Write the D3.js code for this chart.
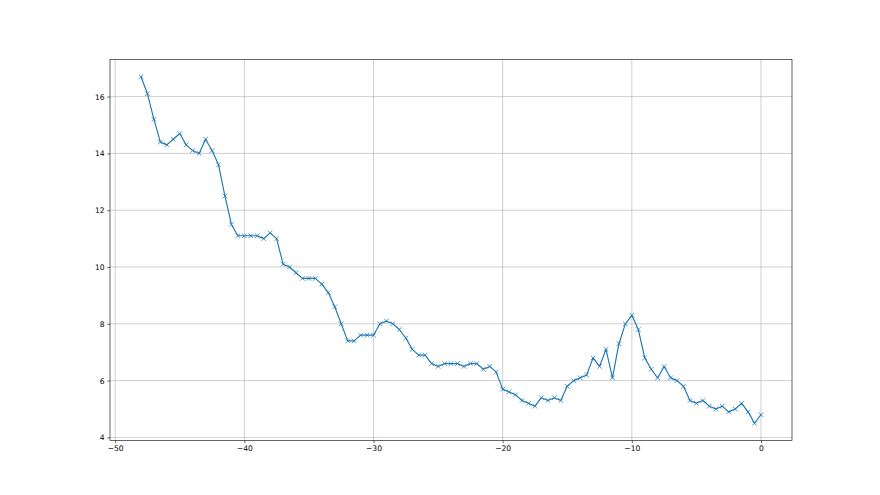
<!DOCTYPE html>
<html>
<head>
<meta charset="utf-8">
<script src="https://cdn.jsdelivr.net/npm/d3@7"></script>
<style>
  body { margin: 0; background: #fff; }
  .axis text { font-family: "DejaVu Sans", sans-serif; font-size: 7.6px; fill: #000; }
  .axis path, .axis line { stroke: #000; stroke-width: 0.6; }
  .grid line { stroke: #b0b0b0; stroke-width: 0.6; }
</style>
</head>
<body>
<div class="chart-container"></div>
<script>
//Data
const xValues = [-48, -47.5, -47, -46.5, -46, -45.5, -45, -44.5, -44, -43.5, -43, -42.5,
  -42, -41.5, -41, -40.5, -40, -39.5, -39, -38.5, -38, -37.5, -37, -36.5,
  -36, -35.5, -35, -34.5, -34, -33.5, -33, -32.5, -32, -31.5, -31, -30.5,
  -30, -29.5, -29, -28.5, -28, -27.5, -27, -26.5, -26, -25.5, -25, -24.5,
  -24, -23.5, -23, -22.5, -22, -21.5, -21, -20.5, -20, -19.5, -19, -18.5,
  -18, -17.5, -17, -16.5, -16, -15.5, -15, -14.5, -14, -13.5, -13, -12.5,
  -12, -11.5, -11, -10.5, -10, -9.5, -9, -8.5, -8, -7.5, -7, -6.5,
  -6, -5.5, -5, -4.5, -4, -3.5, -3, -2.5, -2, -1.5, -1, -0.5, 0];
const yValues = [16.7, 16.1, 15.2, 14.4, 14.3, 14.5, 14.7, 14.3, 14.1, 14.0, 14.5, 14.1,
  13.6, 12.5, 11.5, 11.1, 11.1, 11.1, 11.1, 11.0, 11.2, 11.0, 10.1, 10.0,
  9.8, 9.6, 9.6, 9.6, 9.4, 9.1, 8.6, 8.0, 7.4, 7.4, 7.6, 7.6,
  7.6, 8.0, 8.1, 8.0, 7.8, 7.5, 7.1, 6.9, 6.9, 6.6, 6.5, 6.6,
  6.6, 6.6, 6.5, 6.6, 6.6, 6.4, 6.5, 6.3, 5.7, 5.6, 5.5, 5.3,
  5.2, 5.1, 5.4, 5.3, 5.4, 5.3, 5.8, 6.0, 6.1, 6.2, 6.8, 6.5,
  7.1, 6.1, 7.3, 8.0, 8.3, 7.8, 6.8, 6.4, 6.1, 6.5, 6.1, 6.0,
  5.8, 5.3, 5.2, 5.3, 5.1, 5.0, 5.1, 4.9, 5.0, 5.2, 4.9, 4.5, 4.8];
const xTicks = [-50, -40, -30, -20, -10, 0];
const yTicks = [4, 6, 8, 10, 12, 14, 16];

const data = xValues.map((x, i) => ({x: x, y: yValues[i]}));

//Canvas
const svg_width = 880;
const svg_height = 495;
const chart_margin = {top: 59.4, right: 88, bottom: 54.45, left: 110};
const chart_width = svg_width - (chart_margin.left + chart_margin.right);
const chart_height = svg_height - (chart_margin.top + chart_margin.bottom);

const svg = d3.select('.chart-container').append('svg')
  .attr('width', svg_width).attr('height', svg_height);
const this_svg = svg.append('g')
  .attr('transform', `translate(${chart_margin.left},${chart_margin.top})`);

//scale (matplotlib style 5% margins)
const xExtent = d3.extent(xValues);
const xPad = (xExtent[1] - xExtent[0]) * 0.05;
const xScale = d3.scaleLinear().domain([xExtent[0] - xPad, xExtent[1] + xPad]).range([0, chart_width]);
const yExtent = d3.extent(yValues);
const yPad = (yExtent[1] - yExtent[0]) * 0.05;
const yScale = d3.scaleLinear().domain([yExtent[0] - yPad, yExtent[1] + yPad]).range([chart_height, 0]);

const fmt = d => d3.format('d')(d).replace('-', '\u2212');

//grid
this_svg.append('g').attr('class', 'grid')
  .selectAll('line').data(xTicks).join('line')
  .attr('x1', d => xScale(d)).attr('x2', d => xScale(d))
  .attr('y1', 0).attr('y2', chart_height);
this_svg.append('g').attr('class', 'grid')
  .selectAll('line').data(yTicks).join('line')
  .attr('x1', 0).attr('x2', chart_width)
  .attr('y1', d => yScale(d)).attr('y2', d => yScale(d));

//axes
const xAxis = d3.axisBottom(xScale).tickValues(xTicks).tickFormat(fmt)
  .tickSizeInner(2.7).tickSizeOuter(0).tickPadding(2.7);
const xAxisDraw = this_svg.append('g').attr('class', 'x axis')
  .attr('transform', `translate(0,${chart_height})`)
  .call(xAxis);
xAxisDraw.select('.domain').remove();

const yAxis = d3.axisLeft(yScale).tickValues(yTicks).tickFormat(fmt)
  .tickSizeInner(2.7).tickSizeOuter(0).tickPadding(2.7);
const yAxisDraw = this_svg.append('g').attr('class', 'y axis')
  .call(yAxis);
yAxisDraw.select('.domain').remove();

//line
const line = d3.line().x(d => xScale(d.x)).y(d => yScale(d.y));
this_svg.append('path').datum(data)
  .attr('d', line)
  .attr('fill', 'none')
  .attr('stroke', '#1f77b4')
  .attr('stroke-width', 1.15)
  .attr('stroke-linejoin', 'round')
  .attr('stroke-linecap', 'square');

//x markers
const m = 2.3;
this_svg.append('g').attr('class', 'markers')
  .selectAll('path').data(data).join('path')
  .attr('d', d => {
    const cx = xScale(d.x), cy = yScale(d.y);
    return `M${cx - m},${cy - m}L${cx + m},${cy + m}M${cx - m},${cy + m}L${cx + m},${cy - m}`;
  })
  .attr('stroke', '#1f77b4')
  .attr('stroke-width', 0.76)
  .attr('fill', 'none');

//frame
this_svg.append('rect')
  .attr('x', 0).attr('y', 0)
  .attr('width', chart_width).attr('height', chart_height)
  .attr('fill', 'none')
  .attr('stroke', '#000')
  .attr('stroke-width', 0.6);
</script>
</body>
</html>
